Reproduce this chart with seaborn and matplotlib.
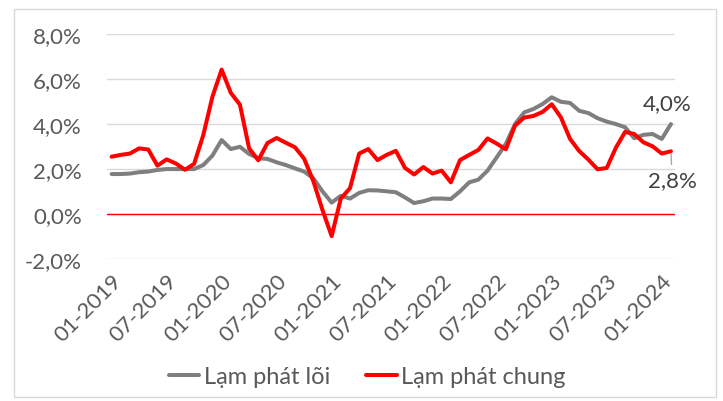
import numpy as np
import pandas as pd
import matplotlib
matplotlib.use("Agg")
import matplotlib.pyplot as plt
from matplotlib.patches import Rectangle
import seaborn as sns

# monthly series, 01-2019 .. 02-2024 (values in %)
months = pd.date_range("2019-01-01", periods=62, freq="MS").strftime("%m-%Y").tolist()

lam_phat_chung = [
    2.56, 2.64, 2.70, 2.93, 2.88, 2.16, 2.44, 2.26, 1.98, 2.24, 3.52, 5.23,
    6.43, 5.40, 4.87, 2.93, 2.40, 3.17, 3.39, 3.18, 2.98, 2.47, 1.48, 0.19,
    -0.97, 0.70, 1.16, 2.70, 2.90, 2.41, 2.64, 2.82, 2.06, 1.77, 2.10, 1.81,
    1.94, 1.42, 2.41, 2.64, 2.86, 3.37, 3.14, 2.89, 3.94, 4.30, 4.37, 4.55,
    4.89, 4.31, 3.35, 2.81, 2.43, 2.00, 2.06, 2.96, 3.66, 3.57, 3.20, 3.02,
    2.70, 2.80,
]
lam_phat_loi = [
    1.79, 1.79, 1.81, 1.87, 1.90, 1.97, 2.01, 2.01, 2.01, 2.01, 2.19, 2.61,
    3.30, 2.90, 3.00, 2.68, 2.49, 2.46, 2.31, 2.19, 2.04, 1.90, 1.60, 1.02,
    0.52, 0.82, 0.70, 0.95, 1.07, 1.06, 1.02, 0.98, 0.75, 0.50, 0.58, 0.70,
    0.70, 0.68, 1.02, 1.42, 1.54, 1.94, 2.53, 3.13, 4.01, 4.53, 4.68, 4.90,
    5.20, 5.00, 4.95, 4.60, 4.50, 4.27, 4.12, 4.01, 3.87, 3.38, 3.53, 3.57,
    3.35, 4.01,
]
tick_labels = ["01-2019", "07-2019", "01-2020", "07-2020", "01-2021", "07-2021",
               "01-2022", "07-2022", "01-2023", "07-2023", "01-2024"]
y_ticks = [-2, 0, 2, 4, 6, 8]

sns.set_style("white")
plt.rcParams["font.family"] = ["Lato", "Noto Sans", "DejaVu Sans"]
txt_color = "#595959"

df = pd.DataFrame({
    "idx": list(range(len(months))) * 2,
    "value": lam_phat_loi + lam_phat_chung,
    "series": ["Lạm phát lõi"] * len(months) + ["Lạm phát chung"] * len(months),
})

fig = plt.figure(figsize=(7.23, 4.02), dpi=100)
ax = fig.add_axes([0.148, 0.3525, 0.7863, 0.5597])

# chart area border
fig.patches.append(Rectangle((14 / 723, 4 / 402), 702 / 723, 388 / 402, transform=fig.transFigure,
                             fill=False, edgecolor="#D9D9D9", linewidth=1))

for v in y_ticks:
    ax.axhline(v, color="#D9D9D9", linewidth=1, zorder=0)
ax.axhline(0, color="#FF0000", linewidth=1, zorder=1)

sns.lineplot(data=df, x="idx", y="value", hue="series",
             palette={"Lạm phát lõi": "#7F7F7F", "Lạm phát chung": "#FF0000"},
             linewidth=2.9, ax=ax, solid_capstyle="round", solid_joinstyle="round")

handles, labels = ax.get_legend_handles_labels()
ax.get_legend().remove()
fig.legend(handles, labels, loc="center", bbox_to_anchor=(0.508, 0.06), ncol=2, frameon=False,
           fontsize=17, labelcolor=txt_color, handlelength=1.3, handletextpad=0.2,
           columnspacing=1.5)

ax.set_xlim(-0.5, len(months) - 0.5)
ax.set_ylim(-2, 8)
ax.set_xticks(range(0, 61, 6))
ax.set_xticklabels(tick_labels, rotation=45, ha="right", rotation_mode="anchor")
ax.set_yticks(y_ticks)
ax.set_yticklabels([f"{v:.1f}%".replace(".", ",") for v in y_ticks])
ax.tick_params(axis="both", length=0, labelsize=16, labelcolor=txt_color)
ax.tick_params(axis="y", pad=18)
ax.tick_params(axis="x", pad=8)
ax.set_xlabel("")
ax.set_ylabel("")
for s in ax.spines.values():
    s.set_visible(False)

last = len(months) - 1
ax.annotate("4,0%", xy=(last, lam_phat_loi[-1]), xytext=(-3, 15), textcoords="offset points",
            ha="center", va="center", fontsize=16, color="#404040")
ax.annotate("2,8%", xy=(last, lam_phat_chung[-1]), xytext=(1, -21), textcoords="offset points",
            ha="center", va="center", fontsize=16, color="#404040",
            arrowprops=dict(arrowstyle="-", color="#A6A6A6", lw=1, shrinkA=2, shrinkB=2))

fig.savefig("out.png", dpi=100)
